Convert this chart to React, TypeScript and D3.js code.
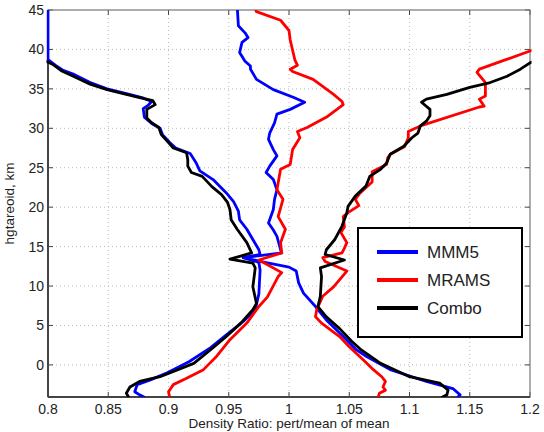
import React from 'react';
import * as d3 from 'd3';

// [ratio, height km] pairs
const mmm5Left: [number, number][] = [
  [0.8, 45.5], [0.8, 38.7], [0.806, 38.0], [0.812, 37.4], [0.822, 36.8], [0.835, 35.8], [0.849, 35.0],
  [0.865, 34.4], [0.878, 33.9], [0.886, 33.4], [0.883, 32.9], [0.879, 32.5], [0.88, 31.4], [0.886, 30.6],
  [0.893, 30.0], [0.895, 29.2], [0.901, 28.2], [0.906, 27.5], [0.918, 26.8], [0.923, 25.6], [0.926, 24.6],
  [0.937, 23.5], [0.948, 21.8], [0.954, 20.7], [0.958, 19.5], [0.959, 18.4], [0.965, 17.2], [0.97, 15.9],
  [0.975, 14.6], [0.976, 14.0], [0.962, 13.6], [0.975, 13.0], [0.976, 12.0], [0.975, 9.0], [0.972, 7.0],
  [0.962, 5.5], [0.948, 3.8], [0.935, 2.2], [0.917, 0.4], [0.899, -1.0], [0.885, -1.9], [0.874, -2.5],
  [0.872, -3.4], [0.876, -3.8], [0.88, -4.1],
];
const mmm5Mid: [number, number][] = [
  [0.957, 45.5], [0.958, 43.0], [0.9635, 42.1], [0.966, 41.5], [0.961, 40.9], [0.959, 39.6], [0.9635, 38.5],
  [0.968, 37.9], [0.968, 37.5], [0.973, 36.2], [0.987, 34.9], [1.004, 33.9], [1.013, 33.3], [1.001, 32.4],
  [0.99, 31.8], [0.988, 30.7], [0.984, 29.4], [0.983, 28.6], [0.987, 27.3], [0.99, 26.5], [0.984, 25.2],
  [0.981, 24.4], [0.987, 23.5], [0.99, 22.2], [0.988, 21.0], [0.987, 19.7], [0.983, 18.0], [0.987, 17.1],
  [0.99, 16.3], [0.993, 14.6], [0.994, 14.2], [0.962, 13.6], [0.98, 13.0], [1.0, 12.4], [1.006, 11.9],
  [1.008, 10.4], [1.012, 9.1], [1.022, 7.4], [1.031, 5.7], [1.045, 3.6], [1.056, 1.9], [1.064, 1.1],
  [1.084, -0.6], [1.114, -2.1], [1.136, -3.0], [1.142, -3.8], [1.14, -4.1],
];
const mramsMid: [number, number][] = [
  [0.971, 45.5], [0.973, 44.8], [0.993, 43.7], [1.0, 42.4], [1.001, 41.2], [1.005, 38.6], [1.007, 38.0],
  [1.001, 37.5], [1.003, 37.2], [1.02, 36.2], [1.037, 34.3], [1.044, 33.4], [1.045, 33.0], [1.032, 31.5],
  [1.015, 30.1], [1.007, 29.6], [1.009, 28.8], [1.003, 27.3], [1.001, 25.4], [0.993, 24.8], [0.99, 22.2],
  [0.995, 21.0], [0.991, 18.8], [0.997, 17.2], [0.993, 15.5], [0.994, 14.2], [0.975, 13.3], [0.994, 11.7],
  [0.991, 11.2], [0.982, 8.6], [0.975, 7.4], [0.965, 5.3], [0.951, 3.2], [0.94, 1.1], [0.929, -0.6],
  [0.915, -1.7], [0.904, -2.5], [0.9, -3.4], [0.901, -4.1],
];
const mramsRight: [number, number][] = [
  [1.205, 40.1], [1.2, 39.8], [1.18, 38.7], [1.158, 37.5], [1.156, 37.1], [1.163, 35.8], [1.163, 34.1],
  [1.158, 33.7], [1.162, 32.8], [1.158, 32.7], [1.109, 30.3], [1.099, 29.6], [1.099, 28.8], [1.096, 27.7],
  [1.084, 26.7], [1.082, 26.3], [1.081, 25.4], [1.069, 24.5], [1.069, 23.2], [1.059, 21.8], [1.055, 21.0],
  [1.058, 20.2], [1.049, 19.3], [1.045, 18.8], [1.046, 17.5], [1.043, 16.8], [1.048, 15.5], [1.046, 14.8],
  [1.044, 14.2], [1.028, 13.6], [1.03, 13.1], [1.048, 11.9], [1.037, 9.9], [1.028, 8.7], [1.023, 7.0],
  [1.022, 6.1], [1.027, 5.3], [1.042, 3.6], [1.05, 2.3], [1.062, 0.6], [1.07, -0.6], [1.077, -1.5],
  [1.08, -2.1], [1.078, -2.8], [1.08, -3.2], [1.075, -3.6], [1.074, -4.1],
];
const comboLeft: [number, number][] = [
  [0.795, 38.6], [0.8, 38.4], [0.804, 38.1], [0.811, 37.3], [0.821, 36.6], [0.835, 35.6], [0.849, 34.9],
  [0.865, 34.3], [0.876, 33.9], [0.887, 33.5], [0.889, 33.0], [0.882, 32.4], [0.882, 31.3], [0.886, 30.7],
  [0.892, 30.1], [0.894, 29.2], [0.9, 28.2], [0.904, 27.5], [0.915, 26.9], [0.916, 26.0], [0.916, 25.2],
  [0.919, 24.4], [0.928, 23.9], [0.936, 22.6], [0.944, 21.6], [0.949, 20.6], [0.951, 19.7], [0.952, 18.4],
  [0.957, 17.2], [0.965, 15.5], [0.969, 14.2], [0.951, 13.4], [0.97, 12.9], [0.972, 12.3], [0.97, 9.9],
  [0.973, 7.8], [0.97, 7.0], [0.96, 5.3], [0.948, 3.6], [0.938, 2.3], [0.921, 0.2], [0.893, -1.5],
  [0.876, -2.1], [0.868, -2.8], [0.865, -3.6], [0.867, -4.1],
];
const comboRight: [number, number][] = [
  [1.205, 38.6], [1.2, 38.3], [1.192, 37.5], [1.181, 36.6], [1.167, 35.8], [1.15, 35.2], [1.131, 34.3],
  [1.114, 33.7], [1.11, 33.3], [1.117, 32.4], [1.117, 31.6], [1.114, 30.9], [1.109, 30.3], [1.107, 29.4],
  [1.102, 28.8], [1.095, 27.7], [1.084, 26.7], [1.081, 25.6], [1.076, 24.8], [1.067, 23.9], [1.064, 22.7],
  [1.055, 21.4], [1.049, 20.1], [1.048, 19.3], [1.044, 17.6], [1.038, 15.9], [1.031, 14.6], [1.03, 14.0],
  [1.046, 13.3], [1.026, 12.3], [1.027, 11.2], [1.026, 8.7], [1.024, 7.4], [1.031, 6.1], [1.042, 4.6],
  [1.052, 3.0], [1.06, 1.9], [1.076, 0.2], [1.1, -1.5], [1.125, -2.3], [1.132, -3.2], [1.131, -3.8],
  [1.127, -4.1],
];

const xTicks = [0.8, 0.85, 0.9, 0.95, 1, 1.05, 1.1, 1.15, 1.2];
const yTicks = [0, 5, 10, 15, 20, 25, 30, 35, 40, 45];
const seriesNames = ['MMM5', 'MRAMS', 'Combo'];
const seriesColors = ['#0000ff', '#ff0000', '#000000'];

const W = 544, H = 432;
const left = 48, right = 530, top = 10, bottom = 397;
const font = 'Liberation Sans, Arial, Helvetica, sans-serif';

export default function App() {
  const x = d3.scaleLinear().domain([0.8, 1.2]).range([left, right]);
  const y = d3.scaleLinear().domain([-4.07, 45]).range([bottom, top]);
  const line = d3.line<[number, number]>().x(d => x(d[0])).y(d => y(d[1]));

  const curves = [
    { data: mmm5Left, color: seriesColors[0] },
    { data: mmm5Mid, color: seriesColors[0] },
    { data: mramsMid, color: seriesColors[1] },
    { data: mramsRight, color: seriesColors[1] },
    { data: comboLeft, color: seriesColors[2] },
    { data: comboRight, color: seriesColors[2] },
  ];

  return (
    <svg width={W} height={H} style={{ position: 'absolute', left: 0, top: 0, background: '#fff' }}>
      <defs>
        <clipPath id="plot">
          <rect x={left - 1.5} y={top} width={right - left + 3} height={bottom - top} />
        </clipPath>
      </defs>
      <rect x={left} y={top} width={right - left} height={bottom - top} fill="#fff" />
      {/* grid */}
      {xTicks.slice(1, -1).map(t => (
        <line key={'gx' + t} x1={x(t)} x2={x(t)} y1={top} y2={bottom} stroke="#bbb" strokeWidth={1} strokeDasharray="1,3" />
      ))}
      {yTicks.filter(t => t !== 45).map(t => (
        <line key={'gy' + t} x1={left} x2={right} y1={y(t)} y2={y(t)} stroke="#bbb" strokeWidth={1} strokeDasharray="1,3" />
      ))}
      {/* inward ticks */}
      {xTicks.map(t => (
        <g key={'tx' + t}>
          <line x1={x(t)} x2={x(t)} y1={bottom} y2={bottom - 5} stroke="#444" />
          <line x1={x(t)} x2={x(t)} y1={top} y2={top + 5} stroke="#444" />
        </g>
      ))}
      {yTicks.map(t => (
        <g key={'ty' + t}>
          <line x1={left} x2={left + 5} y1={y(t)} y2={y(t)} stroke="#444" />
          <line x1={right} x2={right - 5} y1={y(t)} y2={y(t)} stroke="#444" />
        </g>
      ))}
      {/* axes box */}
      <rect x={left} y={top} width={right - left} height={bottom - top} fill="none" stroke="#777" strokeWidth={1.2} />
      <line x1={left} x2={left} y1={top} y2={bottom} stroke="#444" strokeWidth={2} />
      <line x1={left} x2={right} y1={bottom} y2={bottom} stroke="#444" strokeWidth={2} />
      {/* curves */}
      <g clipPath="url(#plot)">
        {curves.map((c, i) => (
          <path key={i} d={line(c.data) || ''} fill="none" stroke={c.color} strokeWidth={2.8}
            strokeLinejoin="round" strokeLinecap="round" />
        ))}
      </g>
      {/* tick labels */}
      {xTicks.map(t => (
        <text key={'lx' + t} x={x(t)} y={bottom + 17} textAnchor="middle" fontFamily={font} fontSize={14} fill="#222">
          {String(t)}
        </text>
      ))}
      {yTicks.map(t => (
        <text key={'ly' + t} x={left - 4} y={y(t) + 5} textAnchor="end" fontFamily={font} fontSize={14} fill="#222">
          {t}
        </text>
      ))}
      <text x={(left + right) / 2} y={428} textAnchor="middle" fontFamily={font} fontSize={13.5} fill="#222">
        Density Ratio: pert/mean of mean
      </text>
      <text transform={`translate(14, ${(top + bottom) / 2}) rotate(-90)`} textAnchor="middle" fontFamily={font} fontSize={13.5} fill="#222">
        hgtareoid, km
      </text>
      {/* legend */}
      <rect x={358} y={228} width={164} height={109} fill="#fff" stroke="#000" strokeWidth={2} />
      {seriesNames.map((n, i) => (
        <g key={n}>
          <line x1={377} x2={418} y1={252 + i * 28} y2={252 + i * 28} stroke={seriesColors[i]} strokeWidth={4} />
          <text x={427} y={252 + i * 28 + 6} fontFamily={font} fontSize={17} fill="#222">{n}</text>
        </g>
      ))}
    </svg>
  );
}
